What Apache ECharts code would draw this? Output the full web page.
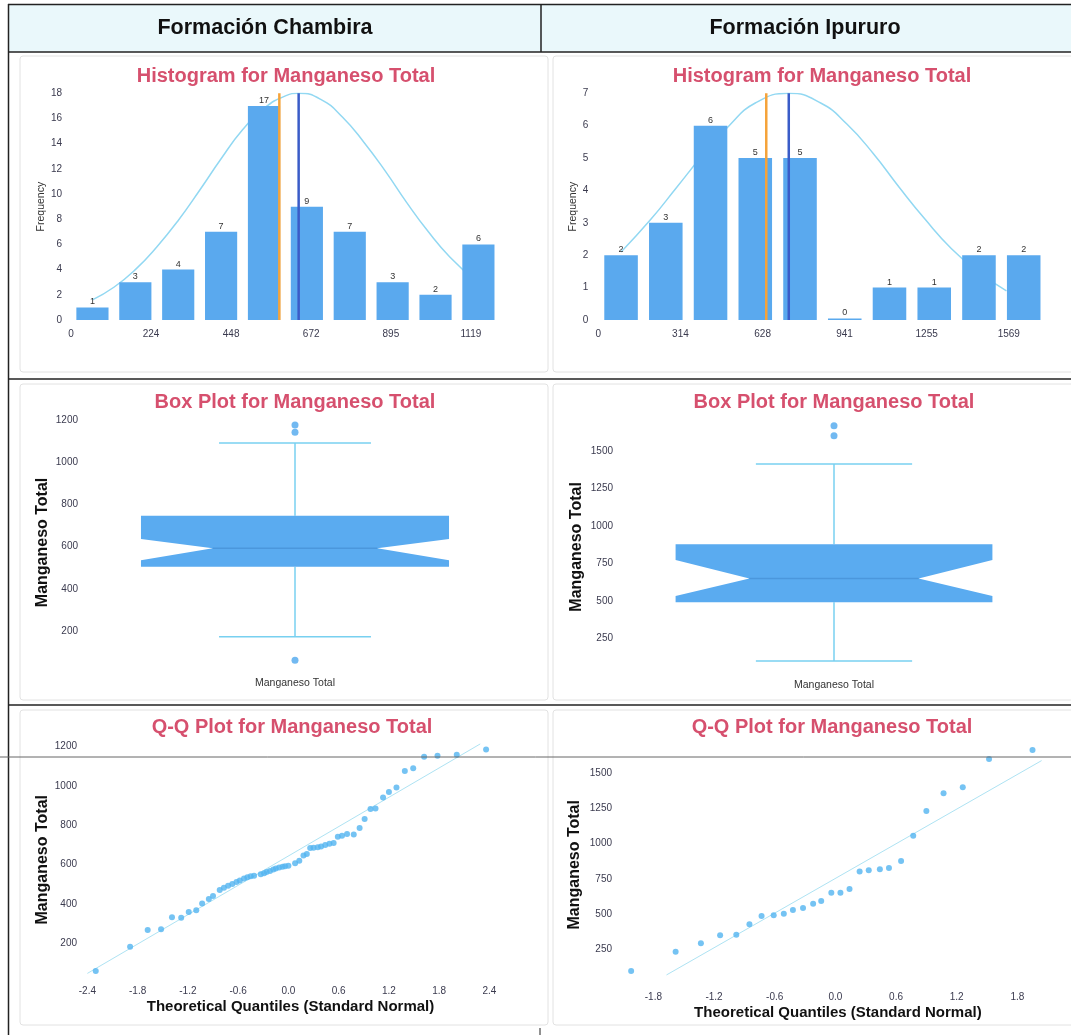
<!DOCTYPE html>
<html>
<head>
<meta charset="utf-8">
<title>Manganeso Total</title>
<script src="https://cdn.jsdelivr.net/npm/echarts@6/dist/echarts.min.js"></script>
<style>
html, body { margin: 0; padding: 0; background: #fff; }
#main { width: 1071px; height: 1035px; }
</style>
</head>
<body>
<div id="main"></div>
<script>
// Formación Chambira - histograma
var histLCenters = [60, 180, 300, 420, 540, 660, 780, 900, 1020, 1140];
var histLCounts = [1, 3, 4, 7, 17, 9, 7, 3, 2, 6];
var histLTicks = [0, 224, 448, 672, 895, 1119];
var curveLX = [60, 120, 180, 240, 300, 360, 420, 480, 540, 600, 637, 700, 760, 820, 880, 940, 1000, 1060, 1140];
var curveLY = [1.6, 2.6, 4.0, 5.8, 7.9, 10.3, 12.8, 15.1, 16.8, 17.8, 18, 17.5, 16.1, 14.1, 11.8, 9.3, 7.0, 5.0, 2.9];
var medianL = 583;
var meanL = 637;

// Formación Ipururo - histograma
var histRCenters = [87, 258, 429, 600, 771, 942, 1113, 1284, 1455, 1626];
var histRCounts = [2, 3, 6, 5, 5, 0, 1, 1, 2, 2];
var histRTicks = [0, 314, 628, 941, 1255, 1569];
var curveRX = [87, 200, 300, 400, 500, 600, 728, 850, 950, 1050, 1150, 1250, 1350, 1450, 1560];
var curveRY = [2.1, 3.1, 4.1, 5.1, 6.0, 6.7, 7.0, 6.7, 6.05, 5.15, 4.1, 3.1, 2.2, 1.5, 0.9];
var medianR = 642;
var meanR = 728;

// box plots: [min bigote, Q1, muesca inf, mediana, muesca sup, Q3, max bigote]
var boxCategory = ['Manganeso Total'];
var boxLStats = [173, 505, 536, 592, 636, 747, 1091];
var boxLOutliers = [1176, 1142, 62];
var boxLTicks = [200, 400, 600, 800, 1000, 1200];
var boxRStats = [99, 490, 532, 650, 773, 877, 1413];
var boxROutliers = [1669, 1602];
var boxRTicks = [250, 500, 750, 1000, 1250, 1500];

// Q-Q plots
var qqLQ = [-2.30, -1.89, -1.68, -1.52, -1.39, -1.28, -1.19, -1.10, -1.03, -0.95, -0.90, -0.82, -0.77, -0.72, -0.67,
    -0.62, -0.58, -0.53, -0.49, -0.45, -0.41, -0.33, -0.29, -0.26, -0.22, -0.18, -0.15, -0.11, -0.07, -0.04,
    0.00, 0.08, 0.13, 0.18, 0.22, 0.26, 0.30, 0.35, 0.39, 0.44, 0.49, 0.54, 0.59, 0.64, 0.70,
    0.78, 0.85, 0.91, 0.98, 1.04, 1.13, 1.20, 1.29, 1.39, 1.49, 1.62, 1.78, 2.01, 2.36];
var qqLV = [59, 183, 268, 271, 332, 330, 359, 368, 403, 425, 441, 471, 483, 493, 502,
    512, 520, 529, 536, 541, 544, 551, 556, 563, 568, 575, 581, 586, 590, 592,
    595, 607, 620, 647, 654, 685, 686, 688, 692, 700, 707, 710, 742, 747, 756,
    754, 786, 832, 883, 886, 942, 969, 993, 1076, 1090, 1149, 1154, 1159, 1186];
var qqLLineX = [-2.4, 2.29];
var qqLLineY = [47, 1214];
var qqLXTicks = [-2.4, -1.8, -1.2, -0.6, 0, 0.6, 1.2, 1.8, 2.4];
var qqLYTicks = [200, 400, 600, 800, 1000, 1200];

var qqRQ = [-2.02, -1.58, -1.33, -1.14, -0.98, -0.85, -0.73, -0.61, -0.51, -0.42, -0.32, -0.22, -0.14, -0.04,
    0.05, 0.14, 0.24, 0.33, 0.44, 0.53, 0.65, 0.77, 0.90, 1.07, 1.26, 1.52, 1.95];
var qqRV = [96, 233, 293, 349, 354, 428, 487, 491, 503, 529, 544, 574, 593, 652,
    652, 678, 802, 811, 818, 828, 877, 1057, 1232, 1358, 1401, 1602, 1666];
var qqRLineX = [-1.67, 2.04];
var qqRLineY = [68, 1590];
var qqRXTicks = [-1.8, -1.2, -0.6, 0, 0.6, 1.2, 1.8];
var qqRYTicks = [250, 500, 750, 1000, 1250, 1500];

var FONT = '"Liberation Sans", Arial, sans-serif';
var TITLE_COLOR = '#d6506e';
var BAR_COLOR = '#5aa9ee';
var TICK_COLOR = '#3a3a4e';

function zip(a, b) {
    var out = [];
    for (var i = 0; i < a.length; i++) {
        out.push([a[i], b[i]]);
    }
    return out;
}

function MnPanels() {
    this.init();
}
MnPanels.prototype = {
    constructor: MnPanels,
    init: function () {
        var that = this;
        that.chart = echarts.init(document.getElementById('main'));
        that.chart.setOption(that.buildOption());
    },
    // eje de valores
    valueAxis: function (idx, min, max, label, extra) {
        var axis = {
            gridIndex: idx,
            type: 'value',
            min: min,
            max: max,
            axisLine: {show: false},
            axisTick: {show: false},
            splitLine: {show: false},
            axisLabel: {
                fontFamily: FONT, fontSize: 10, color: TICK_COLOR, margin: label.margin,
                formatter: label.fixed ? function (v) { return v.toFixed(1); } : function (v) { return String(v); }
            }
        };
        if (label.ticks) {
            axis.axisLabel.customValues = label.ticks;
        }
        if (label.interval) {
            axis.interval = label.interval;
        }
        for (var k in extra) {
            axis[k] = extra[k];
        }
        return axis;
    },
    // histograma con barras
    histSeries: function (idx, centers, counts) {
        var binW = centers[1] - centers[0];
        var data = [];
        for (var i = 0; i < centers.length; i++) {
            data.push([centers[i], counts[i], binW]);
        }
        return {
            type: 'custom',
            xAxisIndex: idx,
            yAxisIndex: idx,
            z: 3,
            data: data,
            encode: {x: 0, y: 1},
            renderItem: function (params, api) {
                var c = api.value(0), n = api.value(1), w = api.value(2);
                var a = api.coord([c - w * 0.375, n]);
                var b = api.coord([c + w * 0.375, 0]);
                var h = Math.max(b[1] - a[1], 1.5);
                return {
                    type: 'group',
                    children: [
                        {type: 'rect', shape: {x: a[0], y: b[1] - h, width: b[0] - a[0], height: h}, style: {fill: BAR_COLOR}},
                        {type: 'text', x: (a[0] + b[0]) / 2, y: b[1] - h - 1,
                            style: {text: String(n), align: 'center', verticalAlign: 'bottom', font: '9px ' + FONT, fill: '#333'}}
                    ]
                };
            }
        };
    },
    vLine: function (idx, x, top, color) {
        return {
            type: 'line', xAxisIndex: idx, yAxisIndex: idx, z: 4, symbol: 'none', silent: true,
            data: [[x, 0], [x, top]],
            lineStyle: {color: color, width: 2.5}
        };
    },
    curve: function (idx, xs, ys) {
        return {
            type: 'line', xAxisIndex: idx, yAxisIndex: idx, z: 2, symbol: 'none', smooth: true,
            data: zip(xs, ys),
            lineStyle: {color: '#92d8f2', width: 1.5}
        };
    },
    // box plot con muesca
    boxSeries: function (idx, stats) {
        return {
            type: 'custom',
            xAxisIndex: idx,
            yAxisIndex: idx,
            z: 3,
            data: [[0].concat(stats)],
            encode: {x: 0, y: [1, 7]},
            renderItem: function (params, api) {
                var cat = api.value(0);
                var y = function (v) { return api.coord([cat, v])[1]; };
                var cx = api.coord([cat, 0])[0];
                var band = api.size([1, 0])[0];
                var bw = band * 0.365, cw = band * 0.18, ww = band * 0.195;
                var lo = api.value(1), q1 = api.value(2), nl = api.value(3), md = api.value(4),
                    nh = api.value(5), q3 = api.value(6), hi = api.value(7);
                var whisker = {stroke: '#78d0f0', lineWidth: 1.5};
                return {
                    type: 'group',
                    children: [
                        {type: 'line', shape: {x1: cx, y1: y(hi), x2: cx, y2: y(q3)}, style: whisker},
                        {type: 'line', shape: {x1: cx, y1: y(q1), x2: cx, y2: y(lo)}, style: whisker},
                        {type: 'line', shape: {x1: cx - cw, y1: y(hi), x2: cx + cw, y2: y(hi)}, style: whisker},
                        {type: 'line', shape: {x1: cx - cw, y1: y(lo), x2: cx + cw, y2: y(lo)}, style: whisker},
                        {type: 'polygon', shape: {points: [
                            [cx - bw, y(q3)], [cx + bw, y(q3)], [cx + bw, y(nh)], [cx + ww, y(md)],
                            [cx + bw, y(nl)], [cx + bw, y(q1)], [cx - bw, y(q1)], [cx - bw, y(nl)],
                            [cx - ww, y(md)], [cx - bw, y(nh)]
                        ]}, style: {fill: '#5aabf0'}},
                        {type: 'line', shape: {x1: cx - ww, y1: y(md), x2: cx + ww, y2: y(md)}, style: {stroke: '#4b97dc', lineWidth: 1.5}}
                    ]
                };
            }
        };
    },
    outliers: function (idx, values) {
        var data = [];
        for (var i = 0; i < values.length; i++) {
            data.push([0, values[i]]);
        }
        return {
            type: 'scatter', xAxisIndex: idx, yAxisIndex: idx, z: 4, symbolSize: 7,
            data: data, itemStyle: {color: '#4fa8ee'}
        };
    },
    qqSeries: function (idx, qs, vs, lx, ly) {
        return [
            {type: 'line', xAxisIndex: idx, yAxisIndex: idx, z: 2, symbol: 'none', silent: true,
                data: zip(lx, ly), lineStyle: {color: '#aee3f3', width: 1}},
            {type: 'scatter', xAxisIndex: idx, yAxisIndex: idx, z: 3, symbolSize: 6,
                data: zip(qs, vs), itemStyle: {color: '#52b4f0'}}
        ];
    },
    catAxis: function (idx) {
        return {
            gridIndex: idx, type: 'category', data: boxCategory,
            axisLine: {show: false}, axisTick: {show: false}, splitLine: {show: false},
            axisLabel: {fontFamily: FONT, fontSize: 10.5, color: '#333', margin: 4}
        };
    },
    text: function (x, y, txt, size, color) {
        return {type: 'text', x: x, y: y, z: 10,
            style: {text: txt, align: 'center', verticalAlign: 'middle', font: 'bold ' + size + 'px ' + FONT, fill: color}};
    },
    hline: function (x1, x2, y, color, w) {
        return {type: 'line', z: 9, shape: {x1: x1, y1: y, x2: x2, y2: y}, style: {stroke: color, lineWidth: w}};
    },
    vline: function (x, y1, y2, color, w) {
        return {type: 'line', z: 9, shape: {x1: x, y1: y1, x2: x, y2: y2}, style: {stroke: color, lineWidth: w}};
    },
    panel: function (x, y, w, h) {
        return {type: 'rect', z: 1, shape: {x: x, y: y, width: w, height: h, r: 3}, style: {fill: 'none', stroke: '#e2e2e2', lineWidth: 1}};
    },
    buildOption: function () {
        var that = this;
        var yName = {fontFamily: FONT, fontSize: 16, fontWeight: 'bold', color: '#111'};
        var freqName = {fontFamily: FONT, fontSize: 10.5, color: '#333'};
        var xName = {fontFamily: FONT, fontSize: 15, fontWeight: 'bold', color: '#111'};

        var series = [
            that.curve(0, curveLX, curveLY),
            that.histSeries(0, histLCenters, histLCounts),
            that.vLine(0, medianL, 18, '#f5a33a'),
            that.vLine(0, meanL, 18, '#3a5cc8'),
            that.curve(1, curveRX, curveRY),
            that.histSeries(1, histRCenters, histRCounts),
            that.vLine(1, medianR, 7, '#f5a33a'),
            that.vLine(1, meanR, 7, '#3a5cc8'),
            that.boxSeries(2, boxLStats),
            that.outliers(2, boxLOutliers),
            that.boxSeries(3, boxRStats),
            that.outliers(3, boxROutliers)
        ].concat(that.qqSeries(4, qqLQ, qqLV, qqLLineX, qqLLineY))
         .concat(that.qqSeries(5, qqRQ, qqRV, qqRLineX, qqRLineY));

        return {
            animation: false,
            backgroundColor: '#fff',
            grid: [
                {left: 71, top: 93.3, width: 436, height: 226.7},
                {left: 598.3, top: 93.3, width: 450, height: 226.7},
                {left: 84, top: 411.6, width: 422, height: 261.7},
                {left: 617, top: 418, width: 434, height: 257.8},
                {left: 79, top: 740.8, width: 423, height: 237.9},
                {left: 618, top: 745.1, width: 439.8, height: 239.4}
            ],
            xAxis: [
                that.valueAxis(0, 0, 1220, {ticks: histLTicks, margin: 9}, {}),
                that.valueAxis(1, 0, 1720, {ticks: histRTicks, margin: 9}, {}),
                that.catAxis(2),
                that.catAxis(3),
                that.valueAxis(4, -2.5, 2.55, {ticks: qqLXTicks, margin: 8, fixed: true},
                    {name: 'Theoretical Quantiles (Standard Normal)', nameLocation: 'middle', nameGap: 21, nameTextStyle: xName}),
                that.valueAxis(5, -2.15, 2.2, {ticks: qqRXTicks, margin: 8, fixed: true},
                    {name: 'Theoretical Quantiles (Standard Normal)', nameLocation: 'middle', nameGap: 21, nameTextStyle: xName})
            ],
            yAxis: [
                that.valueAxis(0, 0, 18, {interval: 2, margin: 9},
                    {name: 'Frequency', nameLocation: 'middle', nameGap: 23, nameTextStyle: freqName}),
                that.valueAxis(1, 0, 7, {interval: 1, margin: 10},
                    {name: 'Frequency', nameLocation: 'middle', nameGap: 19, nameTextStyle: freqName}),
                that.valueAxis(2, 0, 1240, {ticks: boxLTicks, margin: 6},
                    {name: 'Manganeso Total', nameLocation: 'middle', nameGap: 33, nameTextStyle: yName}),
                that.valueAxis(3, 0, 1720, {ticks: boxRTicks, margin: 4},
                    {name: 'Manganeso Total', nameLocation: 'middle', nameGap: 32, nameTextStyle: yName}),
                that.valueAxis(4, 20, 1230, {ticks: qqLYTicks, margin: 2},
                    {name: 'Manganeso Total', nameLocation: 'middle', nameGap: 28, nameTextStyle: yName}),
                that.valueAxis(5, 0, 1700, {ticks: qqRYTicks, margin: 6},
                    {name: 'Manganeso Total', nameLocation: 'middle', nameGap: 35, nameTextStyle: yName})
            ],
            graphic: {
                elements: [
                    {type: 'rect', z: 0, shape: {x: 9, y: 5, width: 1062, height: 47}, style: {fill: '#eaf8fb'}},
                    that.panel(20, 56, 528, 316),
                    that.panel(553, 56, 525, 316),
                    that.panel(20, 384, 528, 316),
                    that.panel(553, 384, 525, 316),
                    that.panel(20, 710, 528, 315),
                    that.panel(553, 710, 525, 315),
                    that.hline(8, 1071, 4.5, '#222', 1.5),
                    that.vline(8.5, 4, 1035, '#222', 1.5),
                    that.hline(8, 1071, 52, '#222', 1.5),
                    that.vline(541, 4, 52, '#222', 1.5),
                    that.hline(8, 1071, 379, '#222', 1.5),
                    that.hline(8, 1071, 705, '#222', 1.5),
                    that.hline(0, 1071, 757, '#666', 1),
                    that.vline(540, 1028, 1035, '#222', 1),
                    that.text(265, 28, 'Formación Chambira', 21.5, '#111'),
                    that.text(805, 28, 'Formación Ipururo', 21.5, '#111'),
                    that.text(286, 76, 'Histogram for Manganeso Total', 20, TITLE_COLOR),
                    that.text(822, 76, 'Histogram for Manganeso Total', 20, TITLE_COLOR),
                    that.text(295, 402, 'Box Plot for Manganeso Total', 20, TITLE_COLOR),
                    that.text(834, 402, 'Box Plot for Manganeso Total', 20, TITLE_COLOR),
                    that.text(292, 727, 'Q-Q Plot for Manganeso Total', 20, TITLE_COLOR),
                    that.text(832, 727, 'Q-Q Plot for Manganeso Total', 20, TITLE_COLOR)
                ]
            },
            series: series
        };
    }
};

var MnPanelsIns = new MnPanels();
</script>
</body>
</html>
